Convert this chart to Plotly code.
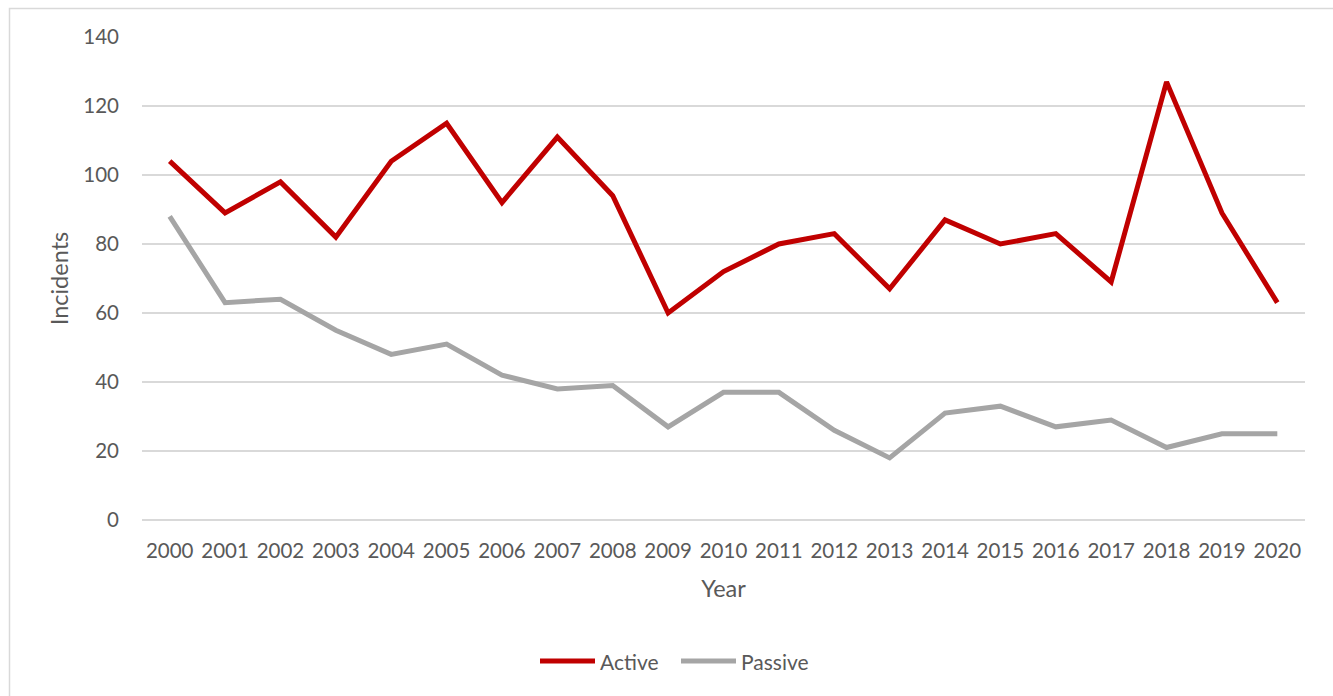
import plotly.graph_objects as go

# Yearly incident counts
years = [str(y) for y in range(2000, 2021)]
active = [104, 89, 98, 82, 104, 115, 92, 111, 94, 60, 72, 80, 83, 67, 87, 80, 83, 69, 127, 89, 63]
passive = [88, 63, 64, 55, 48, 51, 42, 38, 39, 27, 37, 37, 26, 18, 31, 33, 27, 29, 21, 25, 25]
y_ticks = [0, 20, 40, 60, 80, 100, 120, 140]

series = [("Active", active, "#c00000"), ("Passive", passive, "#a5a5a5")]

FONT = "Lato"
TEXT = "#595959"
GRID = "#d9d9d9"
LINE_W = 5

fig = go.Figure()
for name, vals, color in series:
    fig.add_trace(go.Scatter(x=years, y=vals, name=name, mode="lines",
                             line=dict(color=color, width=LINE_W),
                             showlegend=False))

L, R, T, B = 142, 28, 37, 176
W, H = 1333, 696
pw, ph = W - L - R, H - T - B


def px_x(p):
    return (p - L) / pw


def px_y(p):
    return (H - B - p) / ph


# Legend drawn below the axis title: a long key line followed by its label
shapes = [dict(type="rect", xref="paper", yref="paper",
               x0=px_x(9.5), x1=1.2, y0=-0.6, y1=px_y(8.5),
               line=dict(color=GRID, width=1.5), fillcolor="rgba(0,0,0,0)",
               layer="below")]
annotations = []
legend_y = 661
key_starts = [540, 681]
for (name, _, color), x0 in zip(series, key_starts):
    shapes.append(dict(type="line", xref="paper", yref="paper",
                       x0=px_x(x0), x1=px_x(x0 + 55), y0=px_y(legend_y), y1=px_y(legend_y),
                       line=dict(color=color, width=LINE_W)))
    annotations.append(dict(text=name, xref="paper", yref="paper",
                            x=px_x(x0 + 58), y=px_y(legend_y), xanchor="left",
                            yanchor="middle", showarrow=False,
                            font=dict(family=FONT, size=21, color=TEXT)))

fig.update_layout(
    width=W, height=H,
    margin=dict(l=L, r=R, t=T, b=B),
    paper_bgcolor="white", plot_bgcolor="white",
    font=dict(family=FONT, size=20.5, color=TEXT),
    showlegend=False,
    xaxis=dict(type="category", range=[-0.5, 20.5], showgrid=False,
               showline=False, ticks="", ticklabelstandoff=16,
               title=dict(text="Year", standoff=20, font=dict(size=23.5, color=TEXT))),
    yaxis=dict(range=[0, 140], tickvals=y_ticks, showgrid=True, gridcolor=GRID,
               gridwidth=1.5, zeroline=True, zerolinecolor=GRID, zerolinewidth=1.5,
               showline=False, ticks="", ticklabelstandoff=22,
               title=dict(text="Incidents", standoff=8, font=dict(size=23.5, color=TEXT))),
    shapes=shapes,
    annotations=annotations,
)

fig.write_html("out.html")
